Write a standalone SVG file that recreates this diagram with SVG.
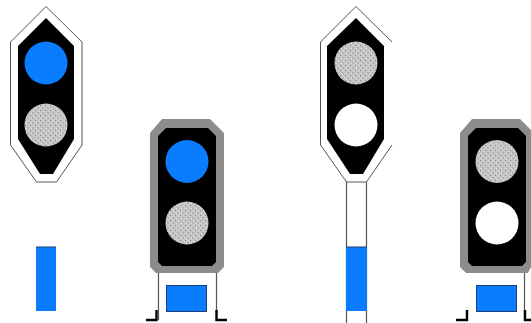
<svg xmlns="http://www.w3.org/2000/svg" width="531" height="323" viewBox="0 0 531 323">
<style>
.plate{fill:#fff;stroke:#555;stroke-width:1}
.hood{fill:#8c8c8c}
.body{fill:#000}
.on{fill:#0a7cff}
.off{fill:url(#dots)}
.white{fill:#fff}
.line{fill:none;stroke:#555;stroke-width:1.200}
.foot{fill:none;stroke:#000;stroke-width:2.400}
.bar{fill:#0a7cff;stroke:#1c3f78;stroke-width:1}
</style>
<defs>
<pattern id="dots" width="5" height="5" patternUnits="userSpaceOnUse">
<rect width="5" height="5" fill="#c6c6c6"/>
<rect x="0" y="0" width="1" height="1" fill="#7e7e7e"/>
<rect x="2.500" y="2.500" width="1" height="1" fill="#7e7e7e"/>
<rect x="1" y="3" width="1" height="1" fill="#e8e8e8"/>
<rect x="3.500" y="0.500" width="1" height="1" fill="#e8e8e8"/>
</pattern>
</defs>
<rect width="531" height="323" fill="#fff"/>
<g id="connectors">
<path class="line" d="M346.500 182V323M366.500 182V323"/>
<path class="line" d="M158.500 273V320M216.500 273V320"/>
<path class="line" d="M524.500 273V320"/>
</g>
<g id="signal-1">
<polygon class="plate" points="46,6.500 10.500,42 10.500,145 36.500,182 56.500,182 82,145 82,42"/>
<polygon class="body" points="46,18 18,46 18,139 40,174 53,174 74,139 74,46"/>
<circle class="on" cx="46" cy="63" r="21.500"/>
<circle class="off" cx="46" cy="125" r="21.500"/>
</g>
<g id="bar-1">
<rect x="36" y="247" width="20" height="64" fill="#0a7cff"/>
<rect x="36" y="246.500" width="20" height="1" fill="#1c3f78"/>
</g>
<g id="signal-2">
<polygon class="hood" points="162,119 210,119 224,133 224,267 218,273 156,273 150,267 150,133"/>
<polygon class="body" points="166,128 208,128 216,136 216,262 212,266 162,266 158,262 158,136"/>
<circle class="on" cx="187" cy="161.500" r="21.500"/>
<circle class="off" cx="187" cy="223" r="21.500"/>
</g>
<g id="box-2">
<rect class="bar" x="166.500" y="285.500" width="40" height="26"/>
<path class="foot" d="M146 320H156.500V310M227 320H216.500V310"/>
</g>
<g id="signal-3">
<path d="M356 6.500 320.500 42V145L346.500 182H366.500L392 145V42Z" fill="#fff"/>
<path class="plate" style="fill:none" d="M392 42 356 6.500 320.500 42V145L346.500 182H366.500L392 145"/>
<polygon class="body" points="356,18 327,46 327,139 350,174 363,174 384,139 384,46"/>
<circle class="off" cx="356" cy="63" r="21.500"/>
<circle class="white" cx="356" cy="125" r="21.500"/>
</g>
<g id="bar-3">
<rect x="346" y="247" width="21" height="64" fill="#0a7cff"/>
<rect x="346" y="246.500" width="21" height="1" fill="#1c3f78"/>
</g>
<g id="signal-4">
<polygon class="hood" points="472,119 520,119 531,130 531,267 528,273 466,273 460,267 460,133"/>
<polygon class="body" points="476,128 518,128 526,136 526,262 522,266 472,266 468,262 468,136"/>
<circle class="off" cx="497" cy="161.500" r="21.500"/>
<circle class="white" cx="497" cy="223" r="21.500"/>
</g>
<g id="box-4">
<rect class="bar" x="476.500" y="285.500" width="40" height="26"/>
<path class="foot" d="M456 320H467V310M531 320H525V310"/>
</g>
</svg>
